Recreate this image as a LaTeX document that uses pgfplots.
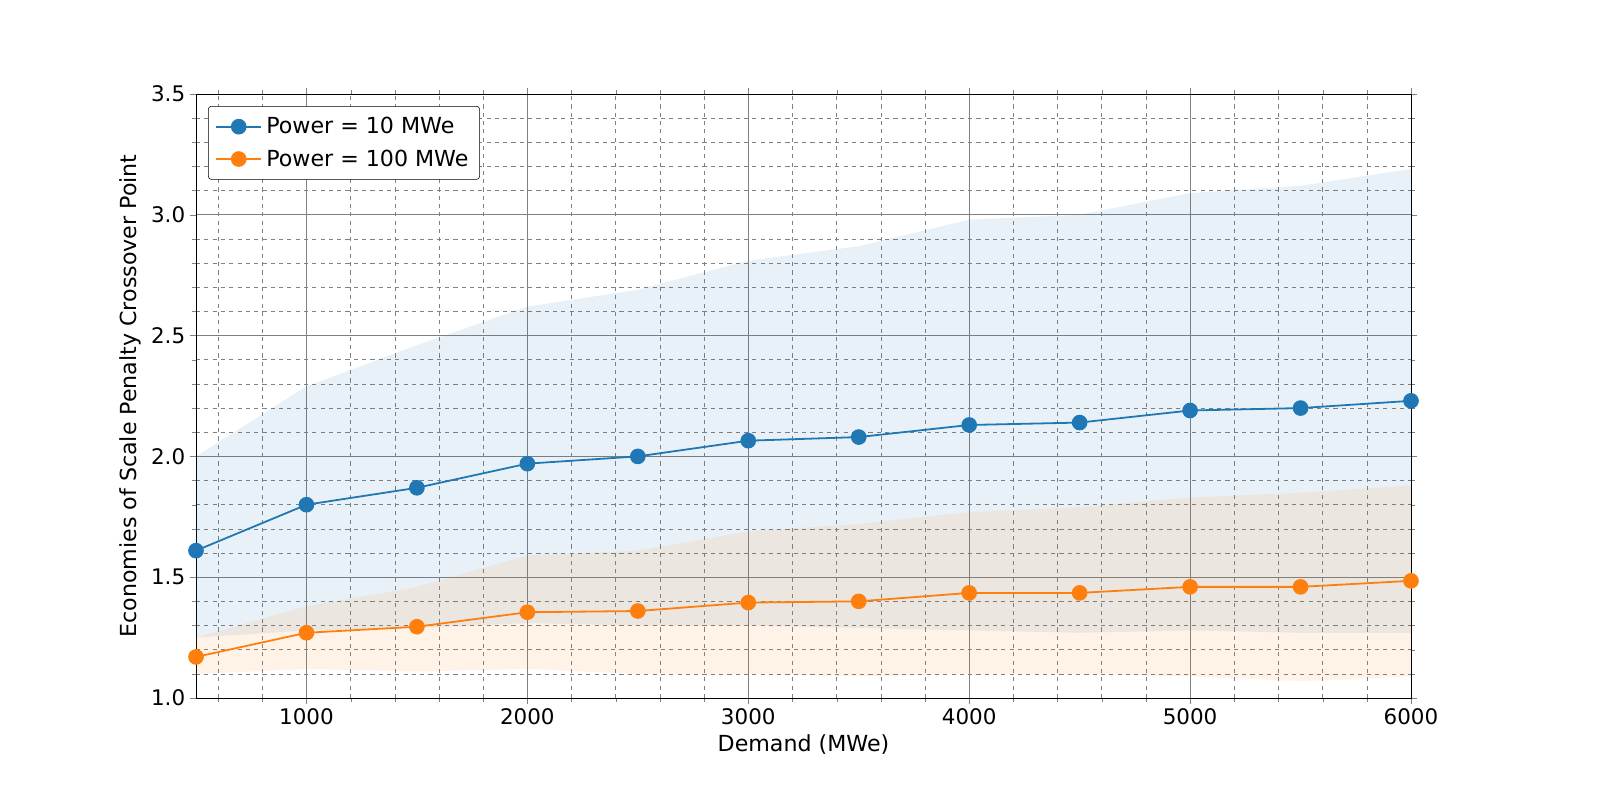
\documentclass[border=0pt]{standalone}
\usepackage{pgfplots}
\pgfplotsset{compat=1.18}
\usepackage{fontspec}
\setmainfont{DejaVu Sans}
\definecolor{c1}{HTML}{1F77B4}
\definecolor{c2}{HTML}{FF7F0E}
\begin{document}
\begin{tikzpicture}[x=1in,y=1in]
\begin{axis}[at={(1.96in,1.02in)},anchor=south west,scale only axis,
 width=12.15in,height=6.04in,xmin=500,xmax=6000,ymin=1,ymax=3.5,
 xtick={1000,2000,3000,4000,5000,6000},ytick={1,1.5,2,2.5,3,3.5},
 minor xtick={600,800,1200,1400,1600,1800,2200,2400,2600,2800,3200,3400,3600,3800,4200,4400,4600,4800,5200,5400,5600,5800},
 minor ytick={1.1,1.2,1.3,1.4,1.6,1.7,1.8,1.9,2.1,2.2,2.3,2.4,2.6,2.7,2.8,2.9,3.1,3.2,3.3,3.4},
 grid=both, major grid style={gray,line width=0.6pt},
 minor grid style={gray,dashed,line width=0.4pt},
 yticklabel style={/pgf/number format/.cd,fixed,fixed zerofill,precision=1},
 xticklabel style={/pgf/number format/1000 sep={}},
 tick label style={font=\fontsize{15.5}{18}\selectfont},
 /pgf/number format/assume math mode=true,
 label style={font=\fontsize{16}{19}\selectfont},
 xlabel={Demand (MWe)},ylabel={Economies of Scale Penalty Crossover Point},
 tick align=outside,
 legend style={at={(0.01,0.98)},anchor=north west,font=\fontsize{16}{19}\selectfont,draw=black,rounded corners=2pt,row sep=4pt,inner sep=5pt,
   nodes={inner sep=3pt}},
 legend image code/.code={\draw[#1,mark=none] (0,0) -- (0.45in,0); \draw[#1,only marks] plot coordinates {(0.225in,0)};},
 legend cell align=left,
]
\addplot[fill=c1,fill opacity=0.1,draw=none,forget plot] coordinates {
(500,2.0)(1000,2.29)(1500,2.46)(2000,2.62)(2500,2.69)(3000,2.81)(3500,2.87)(4000,2.98)(4500,3.0)(5000,3.09)(5500,3.12)(6000,3.19)
(6000,1.27)(5500,1.27)(5000,1.28)(4500,1.27)(4000,1.28)(3500,1.29)(3000,1.30)(2500,1.30)(2000,1.31)(1500,1.29)(1000,1.28)(500,1.25)} -- cycle;
\addplot[fill=c2,fill opacity=0.1,draw=none,forget plot] coordinates {
(500,1.25)(1000,1.38)(1500,1.46)(2000,1.59)(2500,1.61)(3000,1.69)(3500,1.72)(4000,1.77)(4500,1.79)(5000,1.83)(5500,1.85)(6000,1.88)
(6000,1.09)(5500,1.07)(5000,1.09)(4500,1.10)(4000,1.10)(3500,1.09)(3000,1.10)(2500,1.10)(2000,1.12)(1500,1.11)(1000,1.12)(500,1.10)} -- cycle;
\addplot[c1,line width=1.3pt,mark=*,mark size=5pt] coordinates {
(500,1.61)(1000,1.80)(1500,1.87)(2000,1.97)(2500,2.0)(3000,2.065)(3500,2.08)(4000,2.13)(4500,2.14)(5000,2.19)(5500,2.20)(6000,2.23)};
\addlegendentry{Power = 10 MWe}
\addplot[c2,line width=1.3pt,mark=*,mark size=5pt] coordinates {
(500,1.17)(1000,1.27)(1500,1.295)(2000,1.355)(2500,1.36)(3000,1.395)(3500,1.40)(4000,1.435)(4500,1.435)(5000,1.46)(5500,1.46)(6000,1.485)};
\addlegendentry{Power = 100 MWe}
\end{axis}
\pgfresetboundingbox
\path[use as bounding box] (0,0) rectangle (16,8);
\end{tikzpicture}
\end{document}
